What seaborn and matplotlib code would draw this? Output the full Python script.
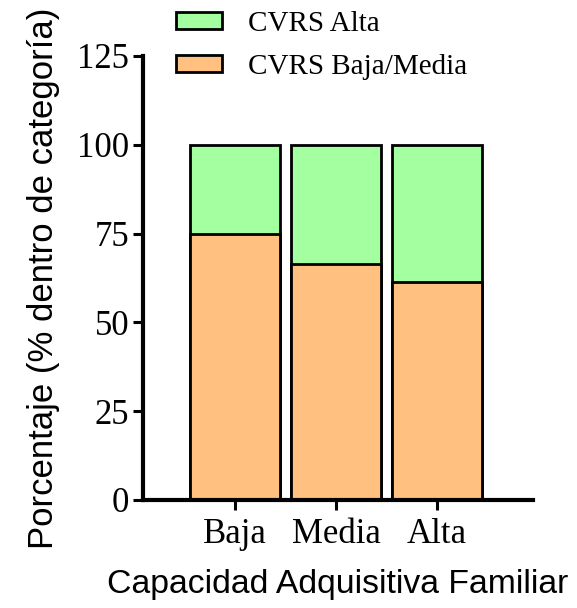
import matplotlib
matplotlib.use("Agg")
import matplotlib.pyplot as plt
import seaborn as sns
import pandas as pd
from matplotlib.patches import Patch

categories = ["Baja", "Media", "Alta"]
cvrs_baja_media = [75.0, 66.5, 61.3]
cvrs_alta = [25.0, 33.5, 38.7]
series_names = ["CVRS Alta", "CVRS Baja/Media"]
yticks = [0, 25, 50, 75, 100, 125]

green = "#A4FFA0"
orange = "#FFC080"

sns.set_theme(style="white")
plt.rcParams["font.family"] = ["Liberation Serif", "DejaVu Serif"]

df = pd.DataFrame({
    "cat": categories,
    "low": cvrs_baja_media,
    "total": [a + b for a, b in zip(cvrs_baja_media, cvrs_alta)],
})

fig = plt.figure(figsize=(5.77, 6.08), dpi=100)
ax = fig.add_axes([143 / 577, (608 - 500) / 608, (533 - 143) / 577, (500 - 56) / 608])

sns.barplot(data=df, x="cat", y="total", order=categories, color=green,
            saturation=1, width=0.89, edgecolor="black", linewidth=2, ax=ax)
sns.barplot(data=df, x="cat", y="low", order=categories, color=orange,
            saturation=1, width=0.89, edgecolor="black", linewidth=2, ax=ax)

ax.set_xlim(-0.91, 2.95)
ax.set_ylim(0, 125)
ax.set_yticks(yticks)
ax.set_yticklabels([str(t) for t in yticks])
sns.despine(ax=ax)
for s in ["left", "bottom"]:
    ax.spines[s].set_linewidth(3)
    ax.spines[s].set_color("black")
ax.tick_params(axis="both", which="major", length=7, width=2.2, color="black",
               labelsize=25, labelcolor="black", direction="out",
               left=True, bottom=True)
ax.tick_params(axis="y", pad=3)
ax.tick_params(axis="x", pad=6)

ax.set_xlabel("Capacidad Adquisitiva Familiar", family=["Liberation Sans", "DejaVu Sans"],
              fontsize=24.3, color="black", labelpad=13)
ax.set_ylabel("Porcentaje (% dentro de categoría)", family=["Liberation Sans", "DejaVu Sans"],
              fontsize=25, color="black", labelpad=12)

handles = [Patch(facecolor=green, edgecolor="black", linewidth=2),
           Patch(facecolor=orange, edgecolor="black", linewidth=2)]
leg = fig.legend(handles, series_names, loc="upper left",
                 bbox_to_anchor=(176 / 577, 1 - 11 / 608), frameon=False,
                 fontsize=21, handlelength=1.58, handleheight=0.55,
                 handletextpad=0.9, labelspacing=0.58, borderpad=0,
                 borderaxespad=0, labelcolor="black")

fig.savefig("out.png", dpi=100)
